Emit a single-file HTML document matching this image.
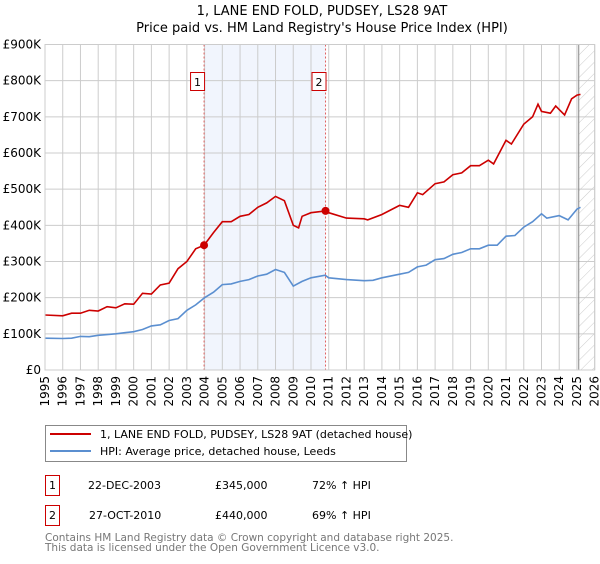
<!DOCTYPE html>
<html><head><meta charset="utf-8">
<style>
body{margin:0;background:#fff;font-family:"DejaVu Sans","Liberation Sans",sans-serif;}
svg text{font-family:"DejaVu Sans","Liberation Sans",sans-serif;}
</style></head>
<body>
<svg id="chart" width="600" height="560" viewBox="0 0 600 560" xmlns="http://www.w3.org/2000/svg">
<defs>
<pattern id="hatch" patternUnits="userSpaceOnUse" width="8" height="8" patternTransform="rotate(45)">
<line x1="0" y1="0" x2="0" y2="8" stroke="#ccc" stroke-width="1"/>
</pattern>
</defs>
<text x="322" y="15" text-anchor="middle" font-size="13">1, LANE END FOLD, PUDSEY, LS28 9AT</text>
<text x="322" y="32" text-anchor="middle" font-size="13">Price paid vs. HM Land Registry's House Price Index (HPI)</text>
<g id="plot"></g>
<g>
<rect x="45.5" y="425.5" width="361" height="36" fill="#fff" stroke="#888"/>
<line x1="50" y1="434" x2="91" y2="434" stroke="#cc0000" stroke-width="2"/>
<text x="100" y="438" font-size="11">1, LANE END FOLD, PUDSEY, LS28 9AT (detached house)</text>
<line x1="50" y1="451" x2="91" y2="451" stroke="#5b8fd0" stroke-width="2"/>
<text x="100" y="455" font-size="11">HPI: Average price, detached house, Leeds</text>
</g>
<g font-size="11">
<rect x="45.5" y="475.5" width="14" height="20" fill="#fff" stroke="#cc0000"/>
<text x="52.5" y="489" text-anchor="middle">1</text>
<text x="88" y="489">22-DEC-2003</text>
<text x="215" y="489">£345,000</text>
<text x="312" y="489">72% ↑ HPI</text>
<rect x="45.5" y="505.5" width="14" height="20" fill="#fff" stroke="#cc0000"/>
<text x="52.5" y="519" text-anchor="middle">2</text>
<text x="89" y="519">27-OCT-2010</text>
<text x="215" y="519">£440,000</text>
<text x="312" y="519">69% ↑ HPI</text>
</g>
<text x="45" y="541" font-size="10.5" fill="#777">Contains HM Land Registry data © Crown copyright and database right 2025.</text>
<text x="45" y="551" font-size="10.5" fill="#777">This data is licensed under the Open Government Licence v3.0.</text>
</svg>
<script>
const hpiYears=[1995,1996,1996.5,1997,1997.5,1998,1998.5,1999,1999.5,2000,2000.5,2001,2001.5,2002,2002.5,2003,2003.5,2004,2004.5,2005,2005.5,2006,2006.5,2007,2007.5,2008,2008.5,2009,2009.5,2010,2010.8,2011,2012,2013,2013.5,2014,2015,2015.5,2016,2016.5,2017,2017.5,2018,2018.5,2019,2019.5,2020,2020.5,2021,2021.5,2022,2022.5,2023,2023.3,2023.8,2024,2024.5,2025,2025.2];
const hpiValues=[88,87,88,93,92,96,98,100,103,106,112,122,125,137,142,165,180,200,215,236,238,245,250,260,265,278,270,232,245,255,262,255,250,247,248,255,265,270,285,290,305,308,320,325,335,335,345,345,370,372,395,410,432,420,425,427,415,445,450];
const priceYears=[1995,1996,1996.5,1997,1997.5,1998,1998.5,1999,1999.5,2000,2000.5,2001,2001.5,2002,2002.5,2003,2003.5,2003.97,2004.5,2005,2005.5,2006,2006.5,2007,2007.5,2008,2008.5,2009,2009.3,2009.5,2010,2010.82,2011,2012,2013,2013.2,2014,2015,2015.5,2016,2016.3,2017,2017.5,2018,2018.5,2019,2019.5,2020,2020.3,2021,2021.3,2022,2022.5,2022.8,2023,2023.5,2023.8,2024,2024.3,2024.7,2025,2025.2];
const priceValues=[152,150,157,157,165,163,175,172,183,182,212,210,235,240,280,300,335,345,380,410,410,425,430,450,462,480,468,400,393,425,435,440,435,420,418,415,430,455,450,490,485,515,520,540,545,565,565,580,570,635,625,680,700,735,715,710,730,720,705,750,760,762];
const saleYears=[2003.97,2010.82];
const saleValues=[345,440];
const saleLabels=["1","2"];
const yTicks=[0,100,200,300,400,500,600,700,800,900];
const yTickLabels=["£0","£100K","£200K","£300K","£400K","£500K","£600K","£700K","£800K","£900K"];
const xTicks=[1995,1996,1997,1998,1999,2000,2001,2002,2003,2004,2005,2006,2007,2008,2009,2010,2011,2012,2013,2014,2015,2016,2017,2018,2019,2020,2021,2022,2023,2024,2025,2026];

const X0=45,X1=594.7,Y0=370,Y1=44.5;
const xs=y=>X0+(y-1995)/(2026-1995)*(X1-X0);
const ys=v=>Y0-v/900*(Y0-Y1);
const NS="http://www.w3.org/2000/svg";
const g=document.getElementById('plot');
function mk(t,a){const e=document.createElementNS(NS,t);for(const k in a)e.setAttribute(k,a[k]);g.appendChild(e);return e;}

let e=mk('rect',{x:xs(saleYears[0]),y:Y1,width:xs(saleYears[1])-xs(saleYears[0]),height:Y0-Y1,fill:'#eef3fc',opacity:0.8});


e=mk('rect',{x:xs(2025.1),y:Y1,width:X1-xs(2025.1),height:Y0-Y1,fill:'url(#hatch)'});


xTicks.forEach(t=>{
  const l=mk('line',{x1:xs(t),x2:xs(t),y1:Y1,y2:Y0,stroke:'#ccc','stroke-width':1});
  
  
  const tx=mk('text',{x:0,y:0,'font-size':12,'text-anchor':'end',transform:`translate(${xs(t)+4},${Y0+6}) rotate(-90)`});
  tx.textContent=t;
  
  
});
yTicks.forEach((t,i)=>{
  const l=mk('line',{x1:X0,x2:X1,y1:ys(t),y2:ys(t),stroke:'#ccc','stroke-width':1});
  
  
  const tx=mk('text',{x:X0-4,y:ys(t)+4,'font-size':12,'text-anchor':'end'});
  tx.textContent=yTickLabels[i];
  
  
});
e=mk('line',{x1:xs(2025.1),x2:xs(2025.1),y1:Y1,y2:Y0,stroke:'#888','stroke-width':1});


saleYears.forEach((s,i)=>{
  const l=mk('line',{x1:xs(s),x2:xs(s),y1:Y1,y2:Y0,stroke:'#e06060','stroke-width':1,'stroke-dasharray':'2,2'});
  
  
});
function path(xa,va,col,name){
  const d=xa.map((x,i)=>(i?'L':'M')+xs(x).toFixed(1)+','+ys(va[i]).toFixed(1)).join('');
  const p=mk('path',{d:d,fill:'none',stroke:col,'stroke-width':1.6});
  
  
}
path(hpiYears,hpiValues,'#5b8fd0','hpi-line');
path(priceYears,priceValues,'#cc0000','price-line');
saleYears.forEach((s,i)=>{
  const c=mk('circle',{cx:xs(s),cy:ys(saleValues[i]),r:4,fill:'#cc0000'});
  
  
  const r=mk('rect',{x:xs(s)-13.5,y:72.5,width:14,height:18,fill:'#fff',stroke:'#cc0000'});
  
  
  const t=mk('text',{x:xs(s)-6.5,y:86,'font-size':11,'text-anchor':'middle'});
  t.textContent=saleLabels[i];
  
  
});
e=mk('rect',{x:X0,y:Y1,width:X1-X0,height:Y0-Y1,fill:'none',stroke:'#ccc'});


</script>
</body></html>
